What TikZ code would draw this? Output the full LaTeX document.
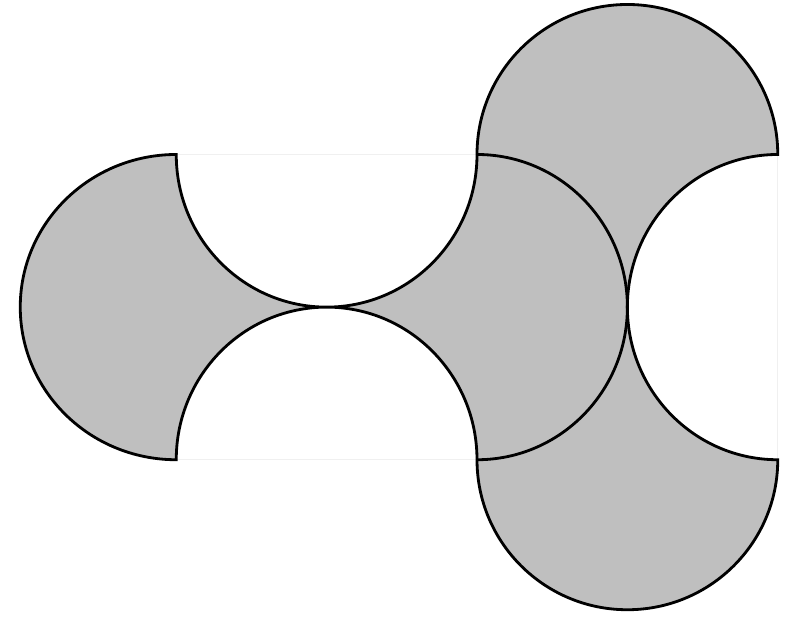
\documentclass[tikz,border=0pt]{standalone}
\begin{document}
\begin{tikzpicture}[x=1.5cm,y=1.5cm]
	\useasboundingbox (0,0) rectangle (5.3333,4.22);
	\coordinate (A) at (1.175,3.19);
	\coordinate (B) at (1.175,1.155);
	\coordinate (C) at (3.18,3.19);
	\coordinate (D) at (3.18,1.155);
	\coordinate (E) at (5.185,3.19);
	\coordinate (F) at (5.185,1.155);
	\foreach \p/\q in {A/D,C/F}
		\draw[gray!12, very thin] (\p) rectangle (\q);
	\draw[thick, fill=gray!50] (A)
		arc[start angle=90, end angle=270, x radius=1.04, y radius=1.0175]
		arc[start angle=180, end angle=0, x radius=1.0025, y radius=1.0175]
		arc[start angle=180, end angle=360, x radius=1.0025, y radius=1]
		arc[start angle=270, end angle=90, x radius=1.0025, y radius=1.0175]
		arc[start angle=0, end angle=180, x radius=1.0025, y radius=1]
		arc[start angle=360, end angle=180, x radius=1.0025, y radius=1.0175] -- cycle;
	\draw[thick] (C) arc[start angle=90, end angle=-90, x radius=1.0025, y radius=1.0175];

\end{tikzpicture}
\end{document}
